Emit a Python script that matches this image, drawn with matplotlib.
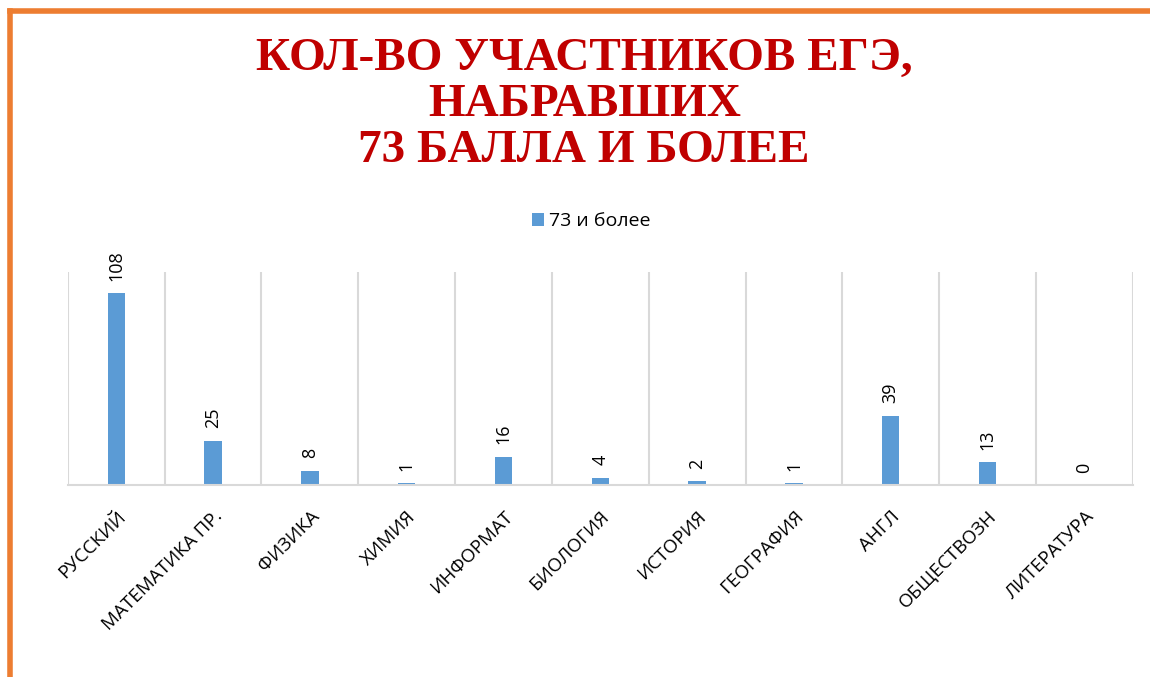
import matplotlib.pyplot as plt
from matplotlib.lines import Line2D

predmety = ["РУССКИЙ", "МАТЕМАТИКА ПР.", "ФИЗИКА", "ХИМИЯ", "ИНФОРМАТ", "БИОЛОГИЯ",
            "ИСТОРИЯ", "ГЕОГРАФИЯ", "АНГЛ", "ОБЩЕСТВОЗН", "ЛИТЕРАТУРА"]
kolvo = [108, 25, 8, 1, 16, 4, 2, 1, 39, 13, 0]
seriya = "73 и более"
zagolovok = "КОЛ-ВО УЧАСТНИКОВ ЕГЭ,\nНАБРАВШИХ\n73 БАЛЛА И БОЛЕЕ"

fig = plt.figure(figsize=(11.5, 6.77), dpi=100)
ax = fig.add_axes([0.059, 0.2836, 0.926, 0.3146])

x = range(len(predmety))
bars = ax.bar(x, kolvo, width=0.18, color="#5B9BD5", label=seriya)

for xi, v in zip(x, kolvo):
    ax.text(xi, v + 7, str(v), rotation=90, ha="center", va="bottom",
            fontsize=13, family="Open Sans", color="#000000")

ax.set_xlim(-0.5, len(predmety) - 0.5)
ax.set_ylim(0, 120)
ax.set_yticks([])
ax.set_xticks(list(x))
ax.set_xticklabels(predmety, rotation=45, ha="right", rotation_mode="anchor",
                   fontsize=13.5, family="Open Sans")
ax.tick_params(axis="x", length=0, pad=16)

for b in [i - 0.5 for i in range(len(predmety) + 1)]:
    ax.axvline(b, color="#D9D9D9", lw=1.5, zorder=0)

for s in ["top", "right", "left"]:
    ax.spines[s].set_visible(False)
ax.spines["bottom"].set_color("#D9D9D9")
ax.spines["bottom"].set_linewidth(1.5)

fig.legend(handles=[bars], loc="center", bbox_to_anchor=(0.514, 0.673),
           frameon=False, prop={"family": "Open Sans", "size": 14},
           handlelength=0.65, handleheight=0.65, handletextpad=0.25)

fig.text(0.508, 0.845, zagolovok, ha="center", va="center", fontsize=34,
         family="Liberation Serif", weight="bold", color="#C00000",
         linespacing=1.12)

# oranzhevaya ramka
fig.add_artist(Line2D([0.009, 1.0], [0.984, 0.984], color="#ED7D31", lw=4,
                      transform=fig.transFigure))
fig.add_artist(Line2D([0.009, 0.009], [0.0, 0.984], color="#ED7D31", lw=4,
                      transform=fig.transFigure))

fig.savefig("out.png", dpi=100)
